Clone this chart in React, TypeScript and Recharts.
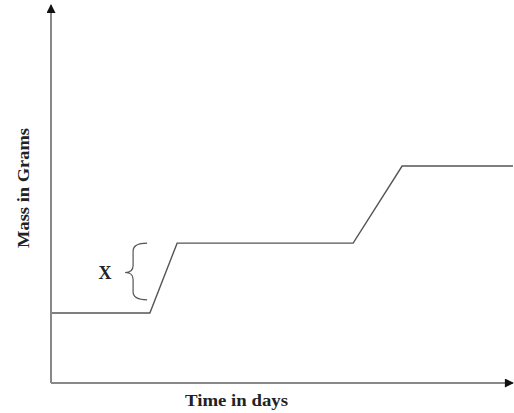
import React from 'react';
import { Line, LineChart, ReferenceLine, XAxis, YAxis } from 'recharts';

// time in days (arbitrary units)
const days = [0, 21.4, 27.3, 65.4, 76, 100];
// mass in grams (arbitrary units)
const mass = [18.5, 18.5, 37, 37, 57.4, 57.4];

const data = days.map((d, i) => ({ day: d, mass: mass[i] }));

// the "X" brace spans from the lower plateau top to the higher one
const braceDay = 20.8;
const braceTop = 37;
const braceBottom = 22;

const font = '"Liberation Serif", "Times New Roman", serif';

function Brace(props: any) {
  const { x1, y1, y2 } = props;
  const top = Math.min(y1, y2);
  const bot = Math.max(y1, y2);
  const mid = (top + bot) / 2 + 1;
  const x = x1;
  const xs = x - 14;
  const tip = x - 22;
  const d = [
    `M ${x} ${top}`,
    `Q ${xs} ${top} ${xs} ${top + 8}`,
    `L ${xs} ${mid - 7}`,
    `Q ${xs} ${mid} ${tip} ${mid}`,
    `Q ${xs} ${mid} ${xs} ${mid + 7}`,
    `L ${xs} ${bot - 8}`,
    `Q ${xs} ${bot} ${x} ${bot}`,
  ].join(' ');
  return (
    <g>
      <path d={d} fill="none" stroke="#555" strokeWidth={1.2} />
      <text
        x={tip - 20}
        y={mid + 7}
        textAnchor="middle"
        fontFamily={font}
        fontWeight="bold"
        fontSize={18}
        fill="#222"
      >
        X
      </text>
    </g>
  );
}

export default function App() {
  return (
    <div style={{ position: 'absolute', left: 0, top: 0, width: 514, height: 413, background: '#fff' }}>
      <LineChart
        width={514}
        height={413}
        data={data}
        margin={{ top: 5, right: 1, left: 50, bottom: 29 }}
      >
        <defs>
          <marker
            id="arrowHead"
            viewBox="0 0 10 10"
            refX="9"
            refY="5"
            markerWidth="10"
            markerHeight="9"
            markerUnits="userSpaceOnUse"
            orient="auto-start-reverse"
          >
            <path d="M0,0 L10,5 L0,10 z" fill="#111" />
          </marker>
        </defs>
        <XAxis
          dataKey="day"
          type="number"
          domain={[0, 100]}
          height={1}
          tick={false}
          tickLine={false}
          axisLine={{ stroke: '#888', strokeWidth: 2, markerEnd: 'url(#arrowHead)' } as any}
        />
        <YAxis
          type="number"
          domain={[0, 100]}
          width={1}
          tick={false}
          tickLine={false}
          axisLine={{ stroke: '#888', strokeWidth: 2, markerStart: 'url(#arrowHead)' } as any}
        />
        <ReferenceLine
          segment={[
            { x: braceDay, y: braceTop },
            { x: braceDay, y: braceBottom },
          ]}
          shape={Brace}
        />
        <Line
          type="linear"
          dataKey="mass"
          stroke="#555"
          strokeWidth={1.4}
          dot={false}
          activeDot={false}
          isAnimationActive={false}
        />
        <text
          x={185}
          y={406}
          textLength={103}
          lengthAdjust="spacingAndGlyphs"
          fontFamily={font}
          fontWeight="bold"
          fontSize={16}
          fill="#222"
        >
          Time in days
        </text>
        <text
          x={29}
          y={188}
          transform="rotate(-90, 29, 188)"
          textAnchor="middle"
          textLength={120}
          lengthAdjust="spacingAndGlyphs"
          fontFamily={font}
          fontWeight="bold"
          fontSize={16}
          fill="#222"
        >
          Mass in Grams
        </text>
      </LineChart>
    </div>
  );
}
